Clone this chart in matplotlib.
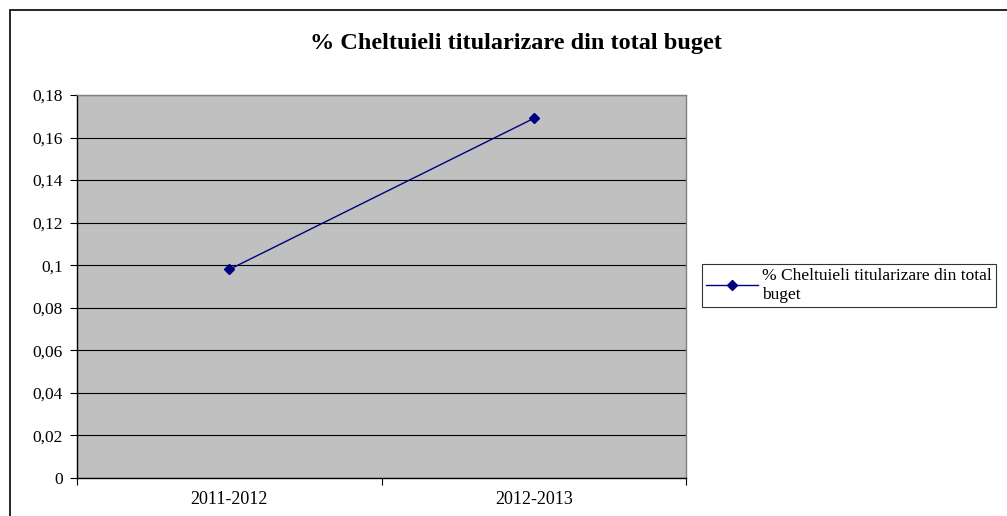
import matplotlib
matplotlib.use("Agg")
import matplotlib.pyplot as plt
from matplotlib.patches import Rectangle

# data
categories = ["2011-2012", "2012-2013"]
values = [0.098, 0.169]
y_ticks = [0, 0.02, 0.04, 0.06, 0.08, 0.10, 0.12, 0.14, 0.16, 0.18]
y_tick_labels = ["0", "0,02", "0,04", "0,06", "0,08", "0,1", "0,12", "0,14", "0,16", "0,18"]
series_name = "% Cheltuieli titularizare din total\nbuget"
title = "% Cheltuieli titularizare din total buget"

plt.rcParams["font.family"] = ["Liberation Serif", "DejaVu Serif"]

fig = plt.figure(figsize=(10.07, 5.16), dpi=100)

# outer chart border (runs off the right and bottom edges)
fig.patches.append(Rectangle((10 / 1007, -0.1), 1.5, 1.1 - 10 / 516,
                             transform=fig.transFigure, fill=False,
                             edgecolor="black", linewidth=1.2))

ax = fig.add_axes([77 / 1007, 1 - 478 / 516, (686 - 77) / 1007, (478 - 95) / 516])
ax.set_facecolor("#C0C0C0")

x = [i + 0.5 for i in range(len(categories))]
line, = ax.plot(x, values, color="#000080", linewidth=1, marker="D",
                markersize=5, markerfacecolor="#000080", markeredgecolor="#000080",
                zorder=3)

ax.set_xlim(0, len(categories))
ax.set_ylim(0, 0.18)
ax.set_yticks(y_ticks)
ax.set_yticklabels(y_tick_labels, fontsize=12.5)
ax.yaxis.grid(True, color="black", linewidth=0.8)
ax.set_axisbelow(True)

ax.set_xticks(range(len(categories) + 1))
ax.set_xticklabels([])
ax.set_xticks(x, minor=True)
ax.set_xticklabels(categories, minor=True, fontsize=13)
ax.tick_params(axis="x", which="minor", length=0, pad=9)
ax.tick_params(axis="x", which="major", length=5, direction="out", width=0.8)
ax.tick_params(axis="y", length=5, direction="out", width=0.8, pad=5)

ax.spines["left"].set_color("black")
ax.spines["bottom"].set_color("black")
ax.spines["top"].set_color("#808080")
ax.spines["right"].set_color("#808080")
for s in ax.spines.values():
    s.set_linewidth(1)

fig.text(516 / 1007, 1 - 43 / 516, title, ha="center", va="center",
         fontsize=17.5, fontweight="bold")

leg = fig.legend([line], [series_name], loc="upper left",
                 bbox_to_anchor=(702 / 1007, 1 - 264 / 516),
                 frameon=True, fancybox=False, fontsize=12.5,
                 handlelength=3.0, borderpad=0.25, handletextpad=0.2,
                 borderaxespad=0, labelspacing=0.2)
leg.get_frame().set_edgecolor("black")
leg.get_frame().set_linewidth(0.8)

fig.savefig("out.png", dpi=100)
